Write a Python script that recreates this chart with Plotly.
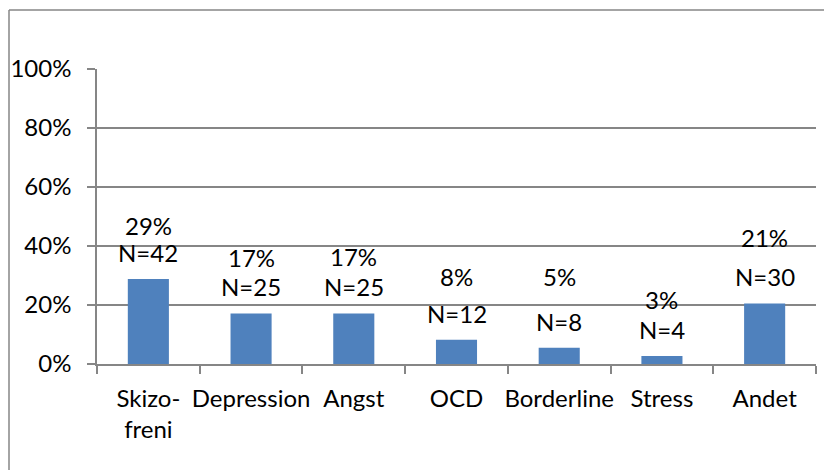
import plotly.graph_objects as go

categories = ["Skizo-<br>freni", "Depression", "Angst", "OCD", "Borderline", "Stress", "Andet"]
shares = [0.288, 0.171, 0.171, 0.082, 0.055, 0.027, 0.205]
counts = [42, 25, 25, 12, 8, 4, 30]
pct_labels = ["29%", "17%", "17%", "8%", "5%", "3%", "21%"]
y_ticks = [0, 0.2, 0.4, 0.6, 0.8, 1.0]
y_tick_labels = ["0%", "20%", "40%", "60%", "80%", "100%"]

# label offsets above bar top (pixels) — styling only
pct_shift = [54, 56, 57, 63, 71, 57, 66]
n_shift = [27, 27, 27, 26, 26, 27, 27]

FONT = "Lato"
FS = 24
GRID = "#868686"

fig = go.Figure()
fig.add_trace(go.Bar(x=categories, y=shares, marker=dict(color="#4F81BD", line=dict(width=0)),
                     width=0.4, hoverinfo="skip"))

for i, c in enumerate(categories):
    fig.add_annotation(x=c, y=shares[i], text=pct_labels[i], showarrow=False,
                       yshift=pct_shift[i], yanchor="middle", font=dict(family=FONT, size=FS, color="black"))
    fig.add_annotation(x=c, y=shares[i], text=f"N={counts[i]}", showarrow=False,
                       yshift=n_shift[i], yanchor="middle", font=dict(family=FONT, size=FS, color="black"))

# page has an 8px body margin, so figure coords = page coords - 8
OFF = 8
L, T = 97 - OFF, 69 - OFF
R = 832 - (816 - OFF)
B = 470 - (364 - OFF)
pw, ph = 832 - L - R, 470 - T - B
x0 = (9 - OFF - L) / pw
y0 = ((364 - OFF) - (10 - OFF)) / ph
fig.add_shape(type="line", xref="paper", yref="paper", x0=x0, x1=(840 - L) / pw, y0=y0, y1=y0,
              line=dict(color=GRID, width=1.5))
fig.add_shape(type="line", xref="paper", yref="paper", x0=x0, x1=x0, y0=y0, y1=-(480) / ph,
              line=dict(color=GRID, width=1.5))

fig.update_layout(
    width=832, height=470,
    margin=dict(l=L, r=R, t=T, b=B, autoexpand=False),
    paper_bgcolor="white", plot_bgcolor="white",
    showlegend=False,
    font=dict(family=FONT, size=FS, color="black"),
    xaxis=dict(type="category", showline=True, linecolor=GRID, linewidth=1.5,
               ticks="outside", ticklen=8, tickcolor=GRID, tickwidth=1.5, tickson="boundaries",
               tickangle=0, automargin=False, ticklabelstandoff=12,
               tickfont=dict(family=FONT, size=FS, color="black"), showgrid=False),
    yaxis=dict(range=[0, 1], tickvals=y_ticks, ticktext=y_tick_labels,
               showline=True, linecolor=GRID, linewidth=1.5, automargin=False,
               ticks="outside", ticklen=8, tickcolor=GRID, tickwidth=1.5,
               showgrid=True, gridcolor=GRID, gridwidth=1.5, zeroline=False,
               ticklabelstandoff=11,
               tickfont=dict(family=FONT, size=FS, color="black")),
)

fig.write_html("out.html")
